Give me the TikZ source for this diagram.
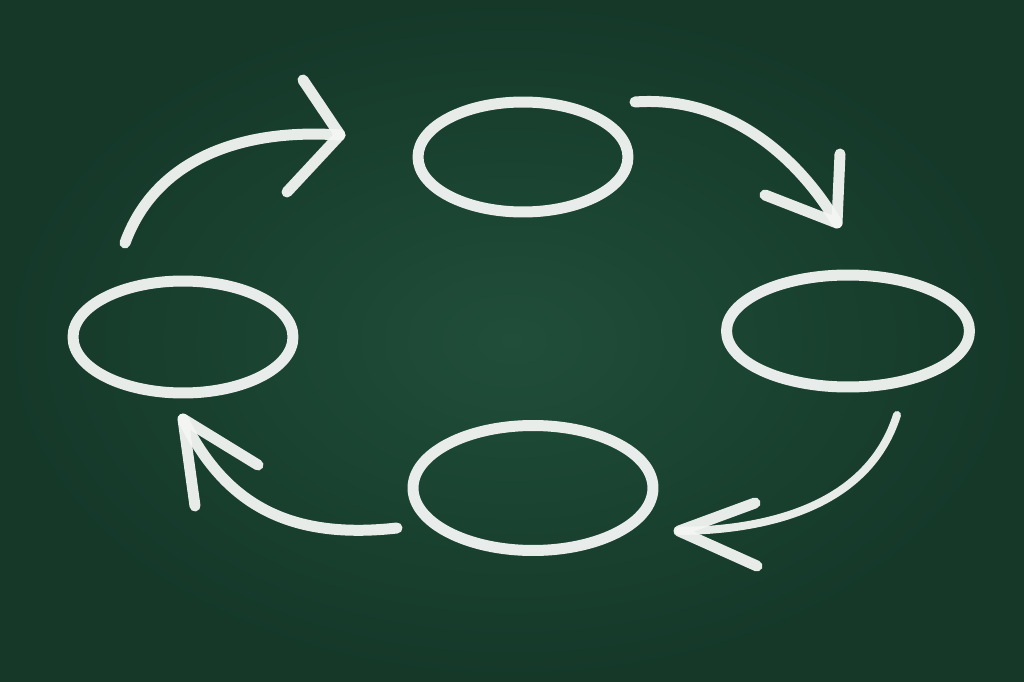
\documentclass[tikz,border=0pt]{standalone}
\usepackage{tikz}
\usepackage{xcolor}
\usetikzlibrary{shapes.geometric, positioning}

\definecolor{board}{RGB}{32,78,58}
\definecolor{boardedge}{RGB}{21,56,41}
\definecolor{chalkwhite}{RGB}{244,246,244}

\begin{document}
\begin{tikzpicture}[x=0.02cm, y=-0.02cm,
    chalk/.style={draw=chalkwhite, opacity=0.95, line width=0.22cm, line cap=round, line join=round},
    bubble/.style={ellipse, chalk, inner sep=0pt}]
      % board
      \shade[inner color=board, outer color=boardedge] (0,0) rectangle (1024,682);
      \useasboundingbox (0,0) rectangle (1024,682);

      % the four bubbles
      \node[bubble, minimum width=4.2cm, minimum height=2.2cm] (top) at (523,157) {};
      \node[bubble, minimum width=4.86cm, minimum height=2.24cm] (right) at (848,331) {};
      \node[bubble, minimum width=4.8cm, minimum height=2.5cm] (bottom) at (533,488) {};
      \node[bubble, minimum width=4.4cm, minimum height=2.24cm] (left) at (183,337) {};

      % arrow ends
      \coordinate (tlS) at (125,243);
      \coordinate (tlT) at (340,135);
      \coordinate (tlA) at (303,80);
      \coordinate (tlB) at (287,192);

      \coordinate (trS) at (635,102);
      \coordinate (trT) at (837,223);
      \coordinate (trA) at (840,154);
      \coordinate (trB) at (765,195);

      \coordinate (brS) at (897,415);
      \coordinate (brT) at (679,531);
      \coordinate (brA) at (755,503);
      \coordinate (brB) at (757,566);

      \coordinate (blS) at (397,528);
      \coordinate (blT) at (183,419);
      \coordinate (blA) at (258,465);
      \coordinate (blB) at (195,506);

      % arrows
      \draw[chalk] (tlS) .. controls (155,160) and (240,128) .. (tlT);
      \draw[chalk] (tlA) -- (tlT) -- (tlB);

      \draw[chalk] (trS) .. controls (730,95) and (800,160) .. (trT);
      \draw[chalk] (trA) -- (trT) -- (trB);

      \draw[chalk, line width=0.16cm] (brS) .. controls (870,500) and (780,530) .. (brT);
      \draw[chalk] (brA) -- (brT) -- (brB);

      \draw[chalk] (blS) .. controls (290,540) and (225,505) .. (blT);
      \draw[chalk] (blA) -- (blT) -- (blB);
\end{tikzpicture}
\end{document}
